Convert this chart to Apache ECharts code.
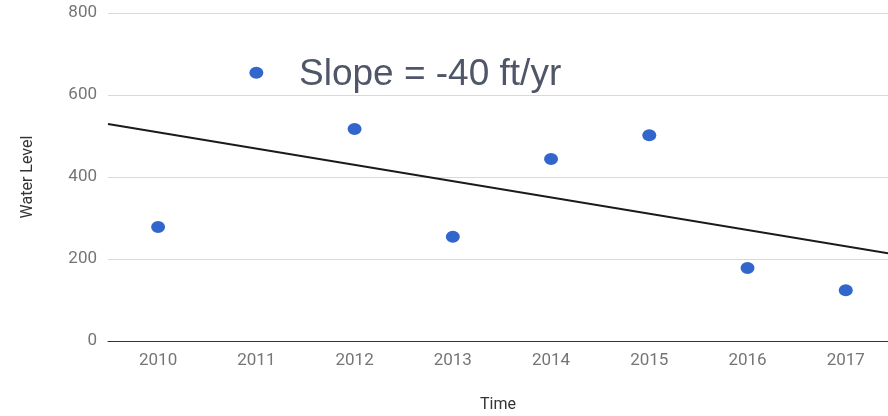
<!DOCTYPE html>
<html>
<head>
<meta charset="utf-8">
<script src="https://cdn.jsdelivr.net/npm/echarts@6/dist/echarts.min.js"></script>
<style>html,body{margin:0;padding:0;background:#fff}#c{width:888px;height:416px}</style>
</head>
<body>
<div id="c"></div>
<script>
var years = [2010, 2011, 2012, 2013, 2014, 2015, 2016, 2017];
var waterLevel = [278, 654, 517, 254, 444, 502, 178, 124];
var trendX = [2009.49, 2017.43];
var trendY = [529, 214];
var yTicks = [0, 200, 400, 600, 800];
var annotation = 'Slope = -40 ft/yr';

var chart = echarts.init(document.getElementById('c'), null, {renderer: 'canvas'});
var font = 'Roboto, "Liberation Sans", Arial, sans-serif';
chart.setOption({
  animation: false,
  grid: {left: 108, right: 0, top: 13, bottom: 75, outerBoundsMode: 'none', containLabel: false},
  xAxis: {
    type: 'value', min: trendX[0], max: trendX[1],
    name: 'Time', nameLocation: 'middle', nameGap: 56,
    nameTextStyle: {color: '#333', fontSize: 16, fontFamily: font},
    axisLine: {show: true, onZero: false, lineStyle: {color: '#333', width: 1}},
    axisTick: {show: false},
    splitLine: {show: false},
    axisLabel: {customValues: years, color: '#757575', fontSize: 17, fontFamily: font, margin: 11,
      formatter: function (v) { return String(v); }}
  },
  yAxis: {
    type: 'value', min: 0, max: 800, interval: 200,
    name: 'Water Level', nameLocation: 'middle', nameGap: 72, nameRotate: 90,
    nameTextStyle: {color: '#333', fontSize: 16, fontFamily: font},
    axisLine: {show: false}, axisTick: {show: false},
    splitLine: {lineStyle: {color: '#d9d9d9', width: 1}},
    axisLabel: {customValues: yTicks, color: '#757575', fontSize: 17, fontFamily: font, margin: 11}
  },
  series: [
    {
      type: 'line', data: trendX.map(function (x, i) { return [x, trendY[i]]; }),
      showSymbol: false, symbol: 'none', silent: true, z: 3,
      lineStyle: {color: '#1a1a1a', width: 2}
    },
    {
      type: 'scatter', data: years.map(function (x, i) { return [x, waterLevel[i]]; }),
      symbol: 'circle', symbolSize: [14, 12], z: 4,
      itemStyle: {color: '#3366cc', opacity: 1}
    }
  ],
  graphic: [{
    type: 'text', left: 299, top: 56,
    style: {text: annotation, fill: '#4f5668', fontSize: 37, fontFamily: '"Liberation Sans", Arial, sans-serif'}
  }]
});
</script>
</body>
</html>
